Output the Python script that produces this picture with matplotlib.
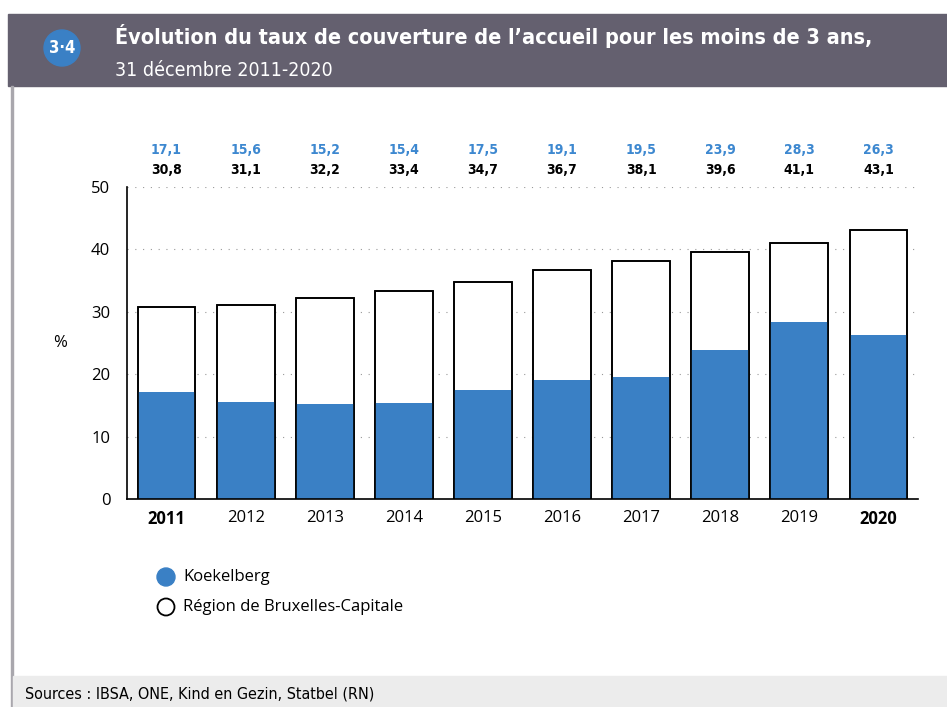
import numpy as np
import matplotlib.pyplot as plt
import matplotlib.patches as patches

years = ['2011', '2012', '2013', '2014', '2015', '2016', '2017', '2018', '2019', '2020']
koekelberg = [17.1, 15.6, 15.2, 15.4, 17.5, 19.1, 19.5, 23.9, 28.3, 26.3]
region = [30.8, 31.1, 32.2, 33.4, 34.7, 36.7, 38.1, 39.6, 41.1, 43.1]
series_names = ['Koekelberg', 'Région de Bruxelles-Capitale']

BLUE = '#3a80c5'
LABEL_BLUE = '#3d88d0'
HEAD = '#64606f'
W, H = 947, 707
NARROW = dict(family=['DejaVu Sans'], fontstretch='condensed')


def fx(px):
    return px / W


def fy(py):
    return 1 - py / H


def fmt(v):
    return ('%.1f' % v).replace('.', ',')


plt.rcParams['font.family'] = ['Open Sans', 'DejaVu Sans']

fig = plt.figure(figsize=(W / 100, H / 100), dpi=100)

# header band, left border and footer band
fig.patches.append(patches.Rectangle((fx(8), fy(86)), 1, fy(14) - fy(86),
                                     transform=fig.transFigure, color=HEAD, zorder=0))
fig.patches.append(patches.Rectangle((fx(11), 0), fx(2), fy(86),
                                     transform=fig.transFigure, color='#a9a7ad', zorder=0))
fig.patches.append(patches.Rectangle((fx(13), 0), 1, fy(676),
                                     transform=fig.transFigure, color='#ececec', zorder=0))
fig.patches.append(patches.Ellipse((fx(62), fy(48)), fx(36), 36 / H,
                                   transform=fig.transFigure, color=BLUE, zorder=1))
fig.text(fx(62), fy(48), '3·4', color='white', fontsize=12, fontweight='bold',
         ha='center', va='center', **NARROW)
fig.text(fx(115), fy(36), 'Évolution du taux de couverture de l\u2019accueil pour les moins de 3 ans,',
         color='white', fontsize=15.5, fontweight='bold', ha='left', va='center', **NARROW)
fig.text(fx(115), fy(70), '31 décembre 2011-2020', color='white', fontsize=14,
         ha='left', va='center', **NARROW)
fig.text(fx(25), fy(694), 'Sources : IBSA, ONE, Kind en Gezin, Statbel (RN)', fontsize=11.5,
         ha='left', va='center', **NARROW)

ax = fig.add_axes([fx(127), fy(499), fx(918) - fx(127), fy(187) - fy(499)])
x = np.arange(len(years))
bw = 0.73
ax.bar(x, region, bw, color='white', edgecolor='black', linewidth=1.2, zorder=2)
ax.bar(x, koekelberg, bw, color=BLUE, edgecolor='none', zorder=3)
# redraw outline on top
ax.bar(x, region, bw, color='none', edgecolor='black', linewidth=1.2, zorder=4)

ax.set_xlim(-0.5, 9.5)
ax.set_ylim(0, 50)
ax.set_yticks([0, 10, 20, 30, 40, 50])
ax.yaxis.grid(True, linestyle=(0, (1, 6)), color='#999999', linewidth=0.8)
ax.set_axisbelow(True)
for s in ['top', 'right']:
    ax.spines[s].set_visible(False)
ax.spines['left'].set_linewidth(1.2)
ax.spines['bottom'].set_linewidth(1.2)
ax.tick_params(axis='y', length=0, labelsize=12, pad=12)
ax.tick_params(axis='x', length=0, labelsize=12, pad=8)
ax.set_xticks(x)
ax.set_xticklabels(years)
for i, lab in enumerate(ax.get_xticklabels()):
    if i in (0, len(years) - 1):
        lab.set_fontweight('bold')
ax.set_ylabel('%', rotation=0, fontsize=12, labelpad=22, va='center')

for i in range(len(years)):
    ax.text(x[i], 1.12, fmt(koekelberg[i]), transform=ax.get_xaxis_transform(),
            ha='center', va='center', color=LABEL_BLUE, fontsize=10, fontweight='bold', **NARROW)
    ax.text(x[i], 1.055, fmt(region[i]), transform=ax.get_xaxis_transform(),
            ha='center', va='center', color='black', fontsize=10, fontweight='bold', **NARROW)

# legend
fig.patches.append(patches.Ellipse((fx(166), fy(577)), fx(18), 18 / H,
                                   transform=fig.transFigure, color=BLUE))
fig.patches.append(patches.Ellipse((fx(166), fy(607)), fx(17), 17 / H,
                                   transform=fig.transFigure, facecolor='white',
                                   edgecolor='black', linewidth=1.3))
fig.text(fx(183), fy(577), series_names[0], fontsize=12, va='center', ha='left')
fig.text(fx(183), fy(607), series_names[1], fontsize=12, va='center', ha='left')

fig.savefig('out.png', dpi=100)
